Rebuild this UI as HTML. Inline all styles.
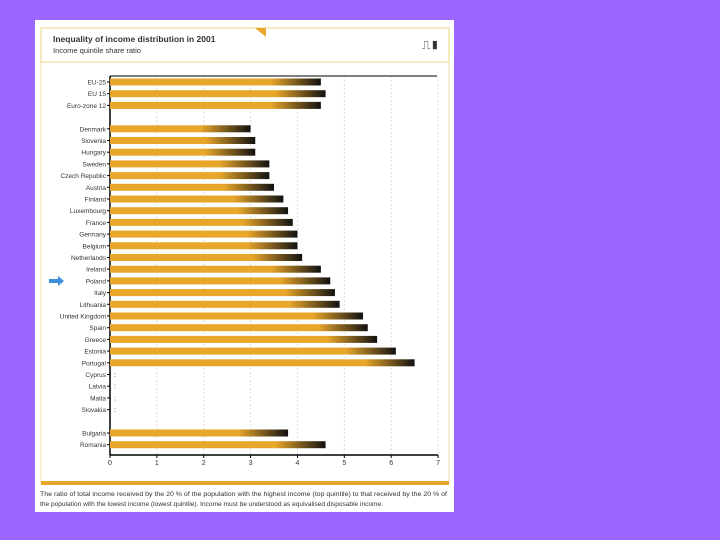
<!DOCTYPE html>
<html><head><meta charset="utf-8"><style>
body{margin:0;width:720px;height:540px;background:#9b66ff;font-family:"Liberation Sans",sans-serif;overflow:hidden}
#panel{position:absolute;left:35px;top:20px;width:419px;height:492px;background:#fff}
</style></head><body>
<div id="panel"></div>
<svg id="c" width="720" height="540" style="position:absolute;left:0;top:0">
<rect x="41" y="28" width="408" height="34" fill="none" stroke="#efe0a8" stroke-width="1.5"/>
<polygon points="255,28 266,28 266,37" fill="#e8a62a"/>
<text x="53" y="42" font-size="8.5" font-weight="bold" fill="#333">Inequality of income distribution in 2001</text>
<text x="53" y="53" font-size="7.5" fill="#333">Income quintile share ratio</text>
<text x="422" y="49" font-size="12" fill="#333">⎍▮</text>
<rect x="41" y="62" width="408" height="420" fill="none" stroke="#efe0a8" stroke-width="1"/>
<rect x="41" y="481" width="408" height="4" fill="#e8a62a"/>
<text x="40" y="496" font-size="6" fill="#333" textLength="407" lengthAdjust="spacingAndGlyphs">The ratio of total income received by the 20 % of the population with the highest income (top quintile) to that received by the 20 % of</text>
<text x="40" y="506" font-size="6" fill="#333" textLength="343" lengthAdjust="spacingAndGlyphs">the population with the lowest income (lowest quintile). Income must be understood as equivalised disposable income.</text>
<g id="plot"></g>
</svg>
<script>
const categories=["EU-25","EU 15","Euro-zone 12","","Denmark","Slovenia","Hungary","Sweden","Czech Republic","Austria","Finland","Luxembourg","France","Germany","Belgium","Netherlands","Ireland","Poland","Italy","Lithuania","United Kingdom","Spain","Greece","Estonia","Portugal","Cyprus","Latvia","Malta","Slovakia","","Bulgaria","Romania"];
const values=[4.5,4.6,4.5,null,3.0,3.1,3.1,3.4,3.4,3.5,3.7,3.8,3.9,4.0,4.0,4.1,4.5,4.7,4.8,4.9,5.4,5.5,5.7,6.1,6.5,null,null,null,null,null,3.8,4.6];
const ticks=[0,1,2,3,4,5,6,7];
const NS="http://www.w3.org/2000/svg",g=document.getElementById("plot");
const x=v=>110+v*46.86, y=i=>82+i*11.7;
function mk(t,a){const e=document.createElementNS(NS,t);for(const k in a)e.setAttribute(k,a[k]);g.appendChild(e);return e;}
ticks.forEach(t=>{if(t>0){const l=mk("line",{x1:x(t),x2:x(t),y1:76,y2:455,stroke:"#ddd","stroke-dasharray":"2,2"});

}
const tx=mk("text",{x:x(t),y:465,"font-size":7,"text-anchor":"middle",fill:"#333"});tx.textContent=t;


mk("line",{x1:x(t),x2:x(t),y1:455,y2:458,stroke:"#000"});});
mk("line",{x1:110,x2:437,y1:76,y2:76,stroke:"#000","stroke-width":1});
mk("line",{x1:110,x2:110,y1:76,y2:455,stroke:"#000","stroke-width":1.5});
mk("line",{x1:110,x2:438,y1:455,y2:455,stroke:"#000","stroke-width":1.5});
categories.forEach((c,i)=>{const yy=y(i);
if(c){const t=mk("text",{x:106,y:yy+2.5,"font-size":6.5,"text-anchor":"end",fill:"#333"});t.textContent=c;


mk("line",{x1:107,x2:110,y1:yy,y2:yy,stroke:"#000"});}
const v=values[i];
if(v!=null){const b=mk("rect",{x:110,y:yy-3.5,width:x(v)-110,height:7});


const w=x(v)-110,s=Math.max(0,(w-50)/w);
const gid="g"+i;const lg=mk("linearGradient",{id:gid,x1:0,x2:1});
lg.innerHTML='<stop offset="'+s+'" stop-color="#e8a62a"/><stop offset="1" stop-color="#111"/>';
b.setAttribute("fill","url(#"+gid+")");}
else if(c){const t=mk("text",{x:114,y:yy+2.5,"font-size":7,fill:"#333"});t.textContent=":";

}});
const ar=mk("polygon",{points:"49,279 58,279 58,276 64,281 58,286 58,283 49,283",fill:"#3d8fe0"});


</script>
</body></html>
